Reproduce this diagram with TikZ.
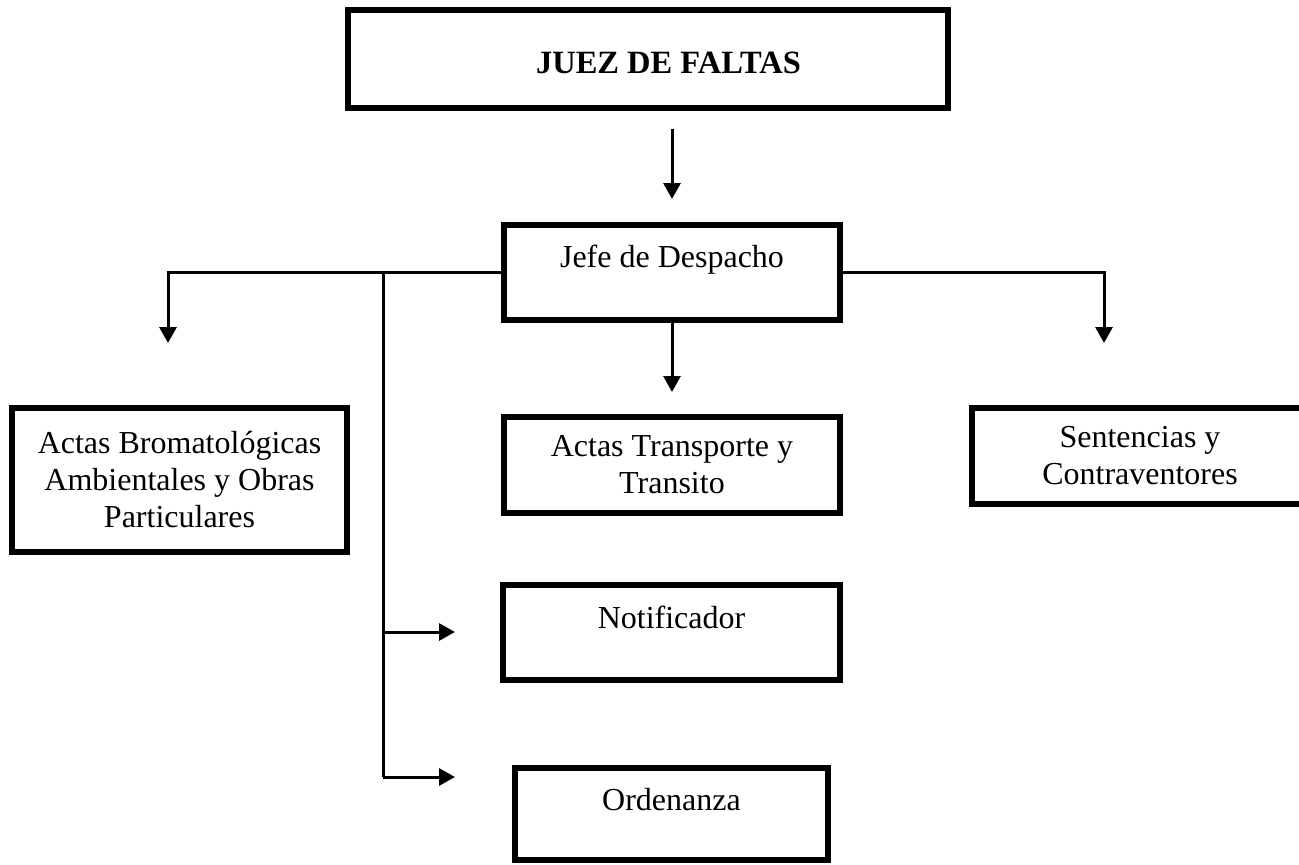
\documentclass[tikz,border=0pt]{standalone}
\usepackage{fontspec}
\setmainfont{Liberation Serif}
\usetikzlibrary{arrows.meta}
\begin{document}
\begin{tikzpicture}[x=1pt,y=-1pt,
    orgbox/.style={draw, line width=6pt, inner sep=0pt, align=center,
        font=\fontsize{32}{37}\selectfont},
    arrow/.style={line width=3pt, -{Triangle[length=16pt,width=17pt]}},
    link/.style={line width=3pt}
  ]
  \useasboundingbox (0,0) rectangle (1299,865);
  % boxes
  \node[orgbox, anchor=base, minimum width=600pt, text height=63pt, text depth=35pt,
        font=\fontsize{32.5}{37}\selectfont\bfseries] (juez) at (648,73) {\hspace*{41pt}JUEZ DE FALTAS};
  \node[orgbox, anchor=base, minimum width=336pt, text height=42pt, text depth=53pt] (jefe) at (672,267) {Jefe de Despacho};
  \node[orgbox, minimum width=335pt, minimum height=144pt] (bromat) at (179.5,480) {Actas Bromatológicas\\Ambientales y Obras\\Particulares};
  \node[orgbox, minimum width=336pt, minimum height=96pt] (transp) at (672,465) {Actas Transporte y\\Transito};
  \node[orgbox, minimum width=336pt, minimum height=96pt] (sent) at (1140,456) {Sentencias y\\Contraventores};
  \node[orgbox, anchor=base, minimum width=337pt, text height=43pt, text depth=52pt] (notif) at (671.5,628) {Notificador};
  \node[orgbox, anchor=base, minimum width=313pt, text height=42pt, text depth=50pt] (orden) at (671.5,810) {Ordenanza};
  % connector ends
  \coordinate (juezout) at (672,129);
  \coordinate (jefein) at (672,199);
  \coordinate (bromatin) at (168,343);
  \coordinate (sentin) at (1104,343);
  \coordinate (transin) at (672,392);
  \coordinate (spinetop) at (383,273);
  \coordinate (spinenotif) at (383,632);
  \coordinate (spinebot) at (383,777);
  \coordinate (notifin) at (455,632);
  \coordinate (ordenin) at (455,777);
  % connectors
  \draw[arrow] (juezout) -- (jefein);
  \draw[arrow] (jefe.west) -| (bromatin);
  \draw[arrow] (jefe.east) -| (sentin);
  \draw[arrow] (jefe.south) -- (transin);
  \draw[link] (spinetop) -- (spinebot);
  \draw[arrow] (spinenotif) -- (notifin);
  \draw[arrow] (spinebot) -- (ordenin);
\end{tikzpicture}
\end{document}
